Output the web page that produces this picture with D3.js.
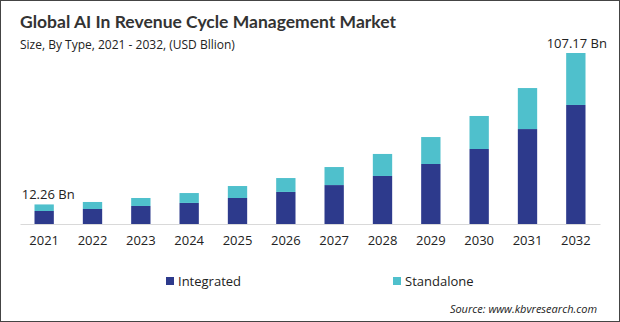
<!DOCTYPE html>
<html>
<head>
<meta charset="utf-8">
<script src="https://cdn.jsdelivr.net/npm/d3@7"></script>
<style>
  body { margin: 0; background: #fff; }
  svg { display: block; font-family: "Open Sans", "Noto Sans", sans-serif; }
</style>
</head>
<body>
<svg id="chart"></svg>
<script>
// values, USD billion
const years = ["2021", "2022", "2023", "2024", "2025", "2026", "2027", "2028", "2029", "2030", "2031", "2032"];
const integrated = [8.15, 9.4, 11.3, 13.2, 16.3, 20.1, 24.4, 30.1, 37.6, 47.0, 59.5, 74.6];
const standalone = [4.11, 4.4, 5.0, 6.2, 7.5, 8.7, 11.3, 13.8, 16.9, 20.7, 25.7, 32.57];
const seriesNames = ["Integrated", "Standalone"];
const endLabels = { "2021": "12.26 Bn", "2032": "107.17 Bn" };

const width = 620, height = 322;
const colors = ["#2d3a8c", "#4fc0cc"];

const svg = d3.select("#chart").attr("width", width).attr("height", height);

svg.append("rect")
  .attr("x", 0.5).attr("y", 0.5)
  .attr("width", width - 1).attr("height", height - 1)
  .attr("fill", "#fff").attr("stroke", "#444");

svg.append("text")
  .attr("x", 20).attr("y", 28)
  .attr("font-size", 17.5).attr("font-weight", "bold").attr("fill", "#333")
  .attr("font-family", "Lato, sans-serif")
  .text("Global AI In Revenue Cycle Management Market");

svg.append("text")
  .attr("x", 20).attr("y", 49)
  .attr("font-size", 12).attr("fill", "#222")
  .text("Size, By Type, 2021 - 2032, (USD Bllion)");

const x = d3.scaleBand().domain(years).range([20, 600])
  .paddingInner(0.6).paddingOuter(0.3);
const y = d3.scaleLinear().domain([0, 107.17]).range([224, 53]);

const rows = years.map((yr, i) => ({ year: yr, Integrated: integrated[i], Standalone: standalone[i] }));
const stacked = d3.stack().keys(seriesNames)(rows);

svg.selectAll("g.series")
  .data(stacked)
  .join("g")
  .attr("class", "series")
  .attr("fill", (d, i) => colors[i])
  .selectAll("rect")
  .data(d => d)
  .join("rect")
  .attr("x", d => x(d.data.year))
  .attr("width", x.bandwidth())
  .attr("y", d => y(d[1]))
  .attr("height", d => y(d[0]) - y(d[1]));

const axis = svg.append("g")
  .attr("transform", "translate(0,224)")
  .call(d3.axisBottom(x).tickSize(0).tickPadding(12));
axis.select(".domain").attr("stroke", "#d9d9d9");
axis.selectAll("text").attr("font-size", 13).attr("fill", "#222")
  .attr("font-family", "\"Open Sans\", sans-serif");

// total labels on first and last bar
const last = stacked[stacked.length - 1];
svg.selectAll("text.total")
  .data(last.filter(d => endLabels[d.data.year]))
  .join("text")
  .attr("class", "total")
  .attr("x", d => x(d.data.year) + x.bandwidth() / 2 + (d.data.year === "2021" ? 4 : 1))
  .attr("y", d => y(d[1]) - 5)
  .attr("text-anchor", "middle")
  .attr("font-size", 13).attr("fill", "#222")
  .text(d => endLabels[d.data.year]);

// legend
const legendX = [166, 393];
const legend = svg.selectAll("g.legend")
  .data(seriesNames)
  .join("g")
  .attr("class", "legend")
  .attr("transform", (d, i) => `translate(${legendX[i]},277)`);
legend.append("rect").attr("width", 8).attr("height", 8).attr("fill", (d, i) => colors[i]);
legend.append("text").attr("x", 12).attr("y", 9)
  .attr("font-size", 13).attr("fill", "#222").text(d => d);

svg.append("text")
  .attr("x", 597).attr("y", 313)
  .attr("text-anchor", "end")
  .attr("font-size", 11).attr("font-style", "italic").attr("fill", "#222")
  .text("Source: www.kbvresearch.com");
</script>
</body>
</html>
